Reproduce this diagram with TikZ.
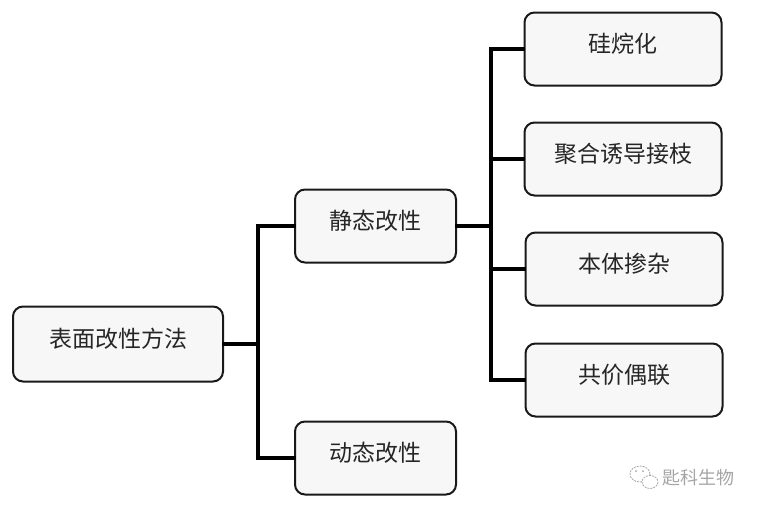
\documentclass[tikz,border=0pt]{standalone}
\usepackage{fontspec}
\setmainfont{Noto Sans CJK SC}
\definecolor{boxfill}{RGB}{247, 247, 247}
\definecolor{boxline}{RGB}{25, 25, 25}
\definecolor{markgray}{RGB}{165, 165, 165}
\usepackage{tikz}
\usetikzlibrary{positioning, calc}

\begin{document}
\begin{tikzpicture}[x=1pt, y=-1pt,
  stepbox/.style={draw=boxline, fill=boxfill, line width=2pt, rounded corners=10pt,
    minimum height=73pt, text height=20pt, text depth=14pt,
    font=\fontsize{23}{28}\selectfont, text=black!85},
  link/.style={line width=3.5pt, line cap=rect, line join=miter}]
  \useasboundingbox (0,0) rectangle (758,512);

  % Left level
  \node[stepbox, minimum width=210pt, minimum height=75pt] (root) at (118,344) {表面改性方法};

  % Middle level
  \node[stepbox, minimum width=161pt] (static) at (375.5,226) {静态改性};
  \node[stepbox, minimum width=161pt] (dynamic) at (375.5,458) {动态改性};

  % Right level
  \node[stepbox, minimum width=197pt] (silane) at (623,49) {硅烷化};
  \node[stepbox, minimum width=197pt] (graft) at (623,159) {聚合诱导接枝};
  \node[stepbox, minimum width=197pt] (dope) at (624,269) {本体掺杂};
  \node[stepbox, minimum width=197pt] (couple) at (624,380) {共价偶联};

  % Connectors
  \coordinate (jA) at (258,344);
  \draw[link] (root.east) -- (jA);
  \draw[link] (jA) |- (static.west);
  \draw[link] (jA) |- (dynamic.west);

  \coordinate (jB) at (491,226);
  \draw[link] (static.east) -- (jB);
  \foreach \n in {silane, graft, dope, couple}
    \draw[link] (jB) |- (\n.west);

  % Watermark
  \draw[markgray, line width=0.8pt, dash pattern=on 2pt off 1pt] (640,474) ellipse (10 and 8);
  \draw[markgray, line width=0.8pt, fill=white, dash pattern=on 2pt off 1pt] (650,482) ellipse (8 and 6.5);
  \fill[markgray] (636,471) circle (1pt) (643,471) circle (1pt);
  \node[font=\fontsize{18}{20}\selectfont, text=markgray, anchor=west, inner sep=0pt] (mark) at (662,478) {匙科生物};
\end{tikzpicture}
\end{document}
